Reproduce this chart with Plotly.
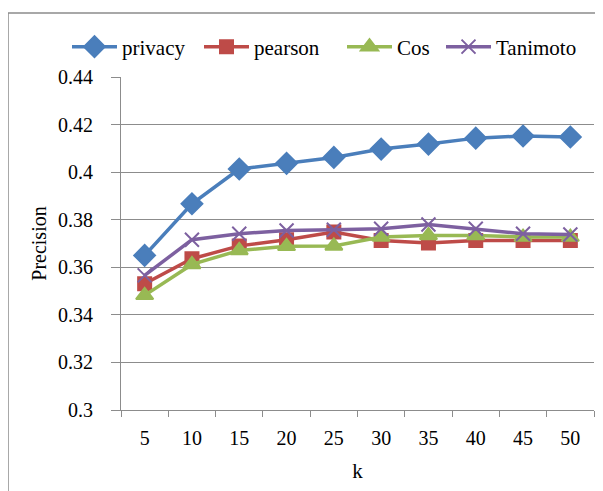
import plotly.graph_objects as go

k_labels = ["5", "10", "15", "20", "25", "30", "35", "40", "45", "50"]
privacy = [0.365, 0.3867, 0.4013, 0.4037, 0.4062, 0.4097, 0.4118, 0.4143, 0.4152, 0.4148]
pearson = [0.3531, 0.3636, 0.3690, 0.3716, 0.3748, 0.3713, 0.3702, 0.3713, 0.3713, 0.3713]
cos = [0.3482, 0.3612, 0.3671, 0.3688, 0.3690, 0.3727, 0.3734, 0.3734, 0.3727, 0.3727]
tanimoto = [0.3566, 0.3716, 0.3741, 0.3755, 0.3758, 0.3762, 0.3780, 0.3762, 0.3741, 0.3738]
y_ticks = [0.3, 0.32, 0.34, 0.36, 0.38, 0.4, 0.42, 0.44]
y_ticktext = ["0.3", "0.32", "0.34", "0.36", "0.38", "0.4", "0.42", "0.44"]

# page body has an 8px margin, so the figure itself is offset by (8, 8)
OFF = 8
W, H = 603 - OFF, 491 - OFF
l, r, t, b = 121 - OFF, 9, 77 - OFF, 81
pw, ph = W - l - r, H - t - b

def px(x):
    return (x - OFF - l) / pw

def py(y):
    return (H - b - (y - OFF)) / ph

series = [
    ("privacy", privacy, "#4A7EBB", "diamond", 16, "legend", 67),
    ("pearson", pearson, "#BE4B48", "square", 13, "legend2", 199),
    ("Cos", cos, "#98B954", "triangle-up", 15, "legend3", 342),
    ("Tanimoto", tanimoto, "#7D60A0", "x-thin-open", 14, "legend4", 441),
]

fig = go.Figure()
legends = {}
for name, vals, color, sym, size, lg, lx in series:
    fig.add_trace(go.Scatter(
        x=k_labels, y=vals, name=name, mode="lines+markers", legend=lg,
        line=dict(color=color, width=3.5),
        marker=dict(symbol=sym, size=size, color=color,
                    line=dict(color=color, width=2)),
    ))
    legends[lg] = dict(orientation="h", x=px(lx), y=py(47), xanchor="left", yanchor="middle",
                       font=dict(size=21), bgcolor="rgba(0,0,0,0)", itemwidth=45)

fig.update_layout(
    width=W, height=H,
    margin=dict(l=l, r=r, t=t, b=b),
    paper_bgcolor="white", plot_bgcolor="white",
    font=dict(family="Liberation Serif", size=20, color="black"),
    showlegend=True,
    **legends,
    xaxis=dict(type="category", range=[-0.5, 9.5],
               title=dict(text="k", font=dict(size=21), standoff=15),
               tickson="boundaries", ticks="outside", ticklen=6, tickcolor="#8c8c8c",
               showline=True, linecolor="#8c8c8c", linewidth=1, showgrid=False,
               tickfont=dict(size=20), ticklabelstandoff=10, fixedrange=True),
    yaxis=dict(title=dict(text="Precision", font=dict(size=20), standoff=6),
               range=[0.3, 0.44], tickvals=y_ticks, ticktext=y_ticktext,
               ticks="outside", ticklen=9, tickcolor="#8c8c8c",
               showline=True, linecolor="#8c8c8c", linewidth=1,
               showgrid=True, gridcolor="#8c8c8c", gridwidth=1,
               zeroline=False, tickfont=dict(size=20), ticklabelstandoff=14),
    shapes=[dict(type="rect", xref="paper", yref="paper",
                 x0=px(8), y0=py(H + 40), x1=px(W + 40), y1=py(13),
                 line=dict(color="#8c8c8c", width=1.5), fillcolor="rgba(0,0,0,0)",
                 layer="below")],
)

fig.write_html("out.html")
